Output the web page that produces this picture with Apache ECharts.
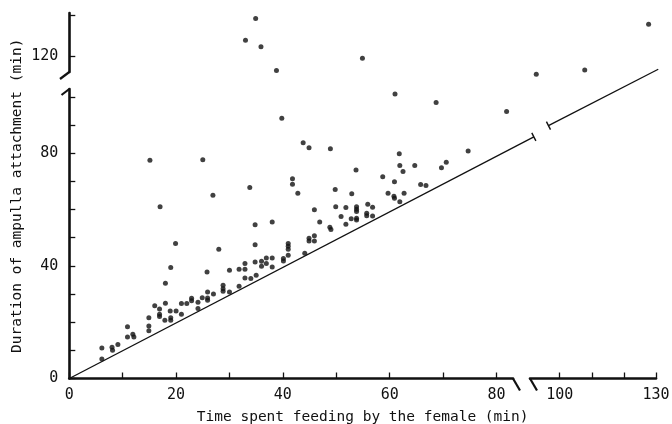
<!DOCTYPE html>
<html><head><meta charset="utf-8">
<script src="https://cdn.jsdelivr.net/npm/echarts@6/dist/echarts.min.js"></script>
<style>html,body{margin:0;padding:0;background:#fff}#c{width:672px;height:424px}</style>
</head><body><div id="c"></div>
<script>
// Lower part (x 0-83 min, y 0-103 min)
const feedLow = [6.1,6.1,8.0,8.1,9.1,10.9,10.9,11.9,12.1,14.9,14.9,14.9,16.0,16.9,16.9,16.9,17.9,18.0,18.0,18.9,19.0,19.0,20.0,21.0,21.0,22.0,22.9,22.9,24.1,24.1,24.9,19.9,19.0,17.0,15.1,25.8,25.9,25.9,25.9,27.0,28.0,28.8,28.8,28.8,30.0,30.0,31.8,31.8,32.9,32.9,32.9,34.0,35.0,34.8,36.0,36.0,36.9,36.9,38.0,38.0,40.1,40.1,41.0,41.0,41.0,41.0,34.8,38.0,34.8,44.1,44.9,44.9,45.9,45.9,45.9,46.9,48.8,49.0,49.9,51.8,50.9,51.8,52.8,53.8,53.8,53.8,53.8,53.8,55.9,55.7,55.7,56.8,56.8,41.8,41.8,42.8,49.8,52.9,53.7,58.7,60.9,61.9,62.5,59.7,60.8,60.9,62.7,61.9,61.8,64.7,65.8,66.8,69.7,70.6,74.7,33.8,26.9,25.0,43.8,44.9,48.9,39.8,61.0,68.7,81.9];
const attachLow = [6.9,10.8,11.1,10.0,12.1,18.4,14.7,15.7,14.7,21.6,18.6,17.0,25.8,24.7,22.8,22.0,20.7,33.8,26.7,24.0,21.6,20.7,24.0,26.6,22.8,26.6,28.5,27.6,27.1,24.9,28.7,47.9,39.4,61.0,77.5,37.8,30.7,28.6,27.8,30.0,45.9,33.1,31.9,31.0,30.7,38.4,38.8,32.8,40.8,38.8,35.7,35.5,36.7,41.4,41.6,39.9,42.8,40.8,42.8,39.6,42.6,41.7,43.8,47.9,47.0,45.9,54.6,55.6,47.5,44.5,49.8,48.8,50.7,48.8,59.9,55.6,53.7,52.9,61.0,60.7,57.5,54.8,56.7,61.0,60.1,59.3,56.9,56.3,61.9,58.7,57.8,60.8,57.7,70.9,69.0,65.8,67.1,65.6,74.0,71.6,69.9,75.6,73.5,65.8,64.7,64.0,65.8,62.8,79.8,75.6,68.9,68.5,74.8,76.8,80.8,67.8,65.1,77.7,83.7,81.9,81.6,92.4,101.0,98.0,94.8];
// Upper part, left of the x break
const feedHigh = [34.9,33.0,35.9,38.8,54.9];
const attachHigh = [133.3,125.6,123.3,114.8,119.2];
// Upper part, right of the x break
const feedHighRight = [92.7,107.8,127.7];
const attachHighRight = [113.5,115.0,131.3];
// Reference line (drawn in two pieces around the break)
const lineLeftX = [0, 87.0];
const lineLeftY = [0, 85.8];
const lineRightX = [96.5, 130.7];
const lineRightY = [89.8, 109.8];
// Ticks and labels
const xTicksLeft = [0,10,20,30,40,50,60,70,80];
const xLabelsLeft = [0,20,40,60,80];
const xTicksRight = [100,110,120,130];
const xLabelsRight = [100,130];
const yTicksLow = [0,10,20,30,40,50,60,70,80,90,100];
const yLabelsLow = [0,40,80];
const yTicksHigh = [120,134.6];
const yLabelsHigh = [120];
const xTitle = 'Time spent feeding by the female (min)';
const yTitle = 'Duration of ampulla attachment (min)';

const zip = (a,b)=>a.map((v,i)=>[v,b[i]]);
const FONT = '"DejaVu Sans Mono","Liberation Mono",monospace';
const INK = '#111';

function shownAxis(grid, min, max, ticks, labels, margin){
  return {type:'value', gridIndex:grid, min:min, max:max, splitLine:{show:false},
    axisLine:{show:true, onZero:false, lineStyle:{color:INK,width:2.6}},
    axisTick:{show:true, inside:true, length:6, customValues:ticks, lineStyle:{color:INK,width:1.3}},
    axisLabel:{show:true, customValues:labels, color:INK, fontFamily:FONT, fontSize:15, margin:margin}};
}
function hiddenAxis(grid, min, max){
  return {type:'value', gridIndex:grid, min:min, max:max, show:false};
}
function g(left, top, width, height){
  return {left:left, top:top, width:width, height:height, containLabel:false, outerBoundsMode:'none'};
}

const chart = echarts.init(document.getElementById('c'));
chart.setOption({
  animation:false,
  backgroundColor:'#fff',
  grid:[
    g(69.3, 89, 443.7, 289.5),
    g(69.3, 13, 443.7, 59),
    g(530, 89, 126, 289.5),
    g(530, 13, 126, 59),
    g(69.3, 13, 586.7, 365.5),
    g(69.3, 13, 467.2, 365.5),
    g(530, 13, 130, 365.5)
  ],
  xAxis:[
    shownAxis(0, 0, 83.1, xTicksLeft, xLabelsLeft, 9),
    hiddenAxis(1, 0, 83.1),
    shownAxis(2, 90.75, 130, xTicksRight, xLabelsRight, 9),
    hiddenAxis(3, 90.75, 130),
    {type:'value', gridIndex:4, min:0, max:1, axisLine:{show:false}, axisTick:{show:false}, axisLabel:{show:false}, splitLine:{show:false},
     name:xTitle, nameLocation:'middle', nameGap:31, nameTextStyle:{color:INK, fontFamily:FONT, fontSize:14.5}},
    hiddenAxis(5, 0, 87.5),
    hiddenAxis(6, 90.75, 131.25)
  ],
  yAxis:[
    shownAxis(0, 0, 102.8, yTicksLow, yLabelsLow, 11),
    shownAxis(1, 114.3, 135.3, yTicksHigh, yLabelsHigh, 11),
    hiddenAxis(2, 0, 102.8),
    hiddenAxis(3, 114.3, 135.3),
    {type:'value', gridIndex:4, min:0, max:1, axisLine:{show:false}, axisTick:{show:false}, axisLabel:{show:false}, splitLine:{show:false},
     name:yTitle, nameLocation:'middle', nameGap:45, nameTextStyle:{color:INK, fontFamily:FONT, fontSize:14.5}},
    hiddenAxis(5, 0, 129.79),
    hiddenAxis(6, 0, 129.79)
  ],
  series:[
    {type:'scatter', xAxisIndex:0, yAxisIndex:0, clip:false, symbol:'circle', symbolSize:5, itemStyle:{color:INK}, data:zip(feedLow, attachLow)},
    {type:'scatter', xAxisIndex:1, yAxisIndex:1, clip:false, symbol:'circle', symbolSize:5, itemStyle:{color:INK}, data:zip(feedHigh, attachHigh)},
    {type:'scatter', xAxisIndex:3, yAxisIndex:3, clip:false, symbol:'circle', symbolSize:5, itemStyle:{color:INK}, data:zip(feedHighRight, attachHighRight)},
    {type:'line', xAxisIndex:5, yAxisIndex:5, clip:false, lineStyle:{color:INK,width:1.3}, itemStyle:{color:INK, borderWidth:0},
     symbol:'rect', symbolSize:[1.4,9], symbolRotate:27, showSymbol:true,
     data:zip(lineLeftX, lineLeftY).map((p,i)=> i===0 ? {value:p, symbol:'none'} : {value:p})},
    {type:'line', xAxisIndex:6, yAxisIndex:6, clip:false, lineStyle:{color:INK,width:1.3}, itemStyle:{color:INK, borderWidth:0},
     symbol:'rect', symbolSize:[1.4,9], symbolRotate:27, showSymbol:true,
     data:zip(lineRightX, lineRightY).map((p,i)=> i===1 ? {value:p, symbol:'none'} : {value:p})}
  ],
  graphic:[
    {type:'line', shape:{x1:69.3,y1:89,x2:61.5,y2:95}, style:{stroke:INK,lineWidth:2.2}},
    {type:'line', shape:{x1:69.3,y1:72,x2:60,y2:79}, style:{stroke:INK,lineWidth:2.2}},
    {type:'line', shape:{x1:513,y1:378.5,x2:520,y2:390.5}, style:{stroke:INK,lineWidth:2.2}},
    {type:'line', shape:{x1:530,y1:378.5,x2:537,y2:390.5}, style:{stroke:INK,lineWidth:2.2}}
  ]
});
</script></body></html>
